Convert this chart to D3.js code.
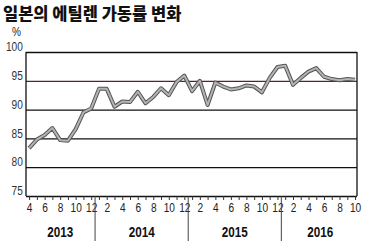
<!DOCTYPE html>
<html>
<head>
<meta charset="utf-8">
<script src="https://cdn.jsdelivr.net/npm/d3@7"></script>
<style>
  body { margin: 0; background: #fff; }
  svg { display: block; }
  .num { font-family: "Liberation Sans", Arial, sans-serif; }
</style>
</head>
<body>
<script>
// data: monthly ethylene plant operating rate in Japan (%)
const years = ['2013', '2014', '2015', '2016'];
const firstMonth = 4;  // series starts April 2013
const rates = [
  83.3, 84.8, 85.6, 86.8, 84.7, 84.6, 86.6, 89.5, 90.2,
  93.6, 93.6, 90.5, 91.4, 91.3, 93.1, 91.1, 92.2, 93.7, 92.5, 94.8, 95.9,
  93.2, 95.0, 90.8, 94.7, 94.0, 93.5, 93.7, 94.2, 94.0, 93.0, 95.5, 97.4,
  97.6, 94.3, 95.5, 96.6, 97.2, 95.7, 95.3, 95.1, 95.3, 95.2
];
const yTicks = [75, 80, 85, 90, 95, 100];

const width = 373;
const height = 251;
const squeeze = 'scale(0.78,1)';  // narrow look of the printed numbers

const svg = d3.select('body')
  .append('svg')
  .attr('width', width)
  .attr('height', height);

// month index 0 = 2013/4
const months = rates.map((v, i) => (firstMonth - 1 + i) % 12 + 1);

const x = d3.scaleLinear()
  .domain([-0.4, rates.length - 0.75])
  .range([26, 357]);

const y = d3.scaleLinear()
  .domain([75, 100])
  .range([196, 52]);

// title
svg.append('text')
  .text('일본의 에틸렌 가동률 변화')
  .attr('x', 3)
  .attr('y', 20)
  .attr('font-family', '"Noto Sans CJK KR", sans-serif')
  .attr('font-weight', 900)
  .attr('font-size', '16.5px')
  .attr('fill', '#111');

svg.append('text')
  .text('%')
  .attr('class', 'num')
  .attr('transform', 'translate(12,36) ' + squeeze)
  .attr('font-size', '13px')
  .attr('fill', '#222');

// horizontal grid + y labels
const yAxis = svg.append('g')
  .attr('transform', 'translate(26,0)')
  .call(d3.axisLeft(y).tickValues(yTicks).tickSize(-(357 - 26)).tickPadding(4));

yAxis.select('.domain').remove();
yAxis.selectAll('.tick line')
  .attr('stroke', d => d === 95 ? '#5a2424' : '#111')
  .attr('stroke-width', d => d === 75 ? 1.5 : 1.3);
yAxis.selectAll('.tick text')
  .attr('class', 'num')
  .attr('font-size', '13px')
  .attr('fill', '#333')
  .attr('transform', squeeze)
  .attr('dy', '-0.1em');

// frame sides
svg.append('line')
  .attr('x1', 26).attr('x2', 26)
  .attr('y1', y(100)).attr('y2', y(75))
  .attr('stroke', '#111').attr('stroke-width', 1.3);
svg.append('line')
  .attr('x1', 357).attr('x2', 357)
  .attr('y1', y(100)).attr('y2', y(75))
  .attr('stroke', '#111').attr('stroke-width', 1.3);

// month ticks and labels
const xAxis = svg.append('g')
  .attr('transform', `translate(0,${y(75)})`)
  .call(d3.axisBottom(x)
    .tickValues(d3.range(rates.length))
    .tickSize(4)
    .tickPadding(3)
    .tickFormat(i => months[i] % 2 === 0 ? months[i] : ''));

xAxis.select('.domain').remove();
xAxis.selectAll('.tick line').attr('stroke', '#333');
xAxis.selectAll('.tick text')
  .attr('class', 'num')
  .attr('font-size', '13px')
  .attr('fill', '#222')
  .attr('transform', squeeze);

// year dividers and labels
const yearStarts = months.map((m, i) => m === 1 ? i : -1).filter(i => i >= 0);

svg.selectAll('.divider')
  .data(yearStarts)
  .enter()
  .append('line')
  .attr('class', 'divider')
  .attr('x1', i => x(i - 0.5))
  .attr('x2', i => x(i - 0.5))
  .attr('y1', y(75))
  .attr('y2', 241)
  .attr('stroke', '#444')
  .attr('stroke-width', 1);

const bounds = [0, ...yearStarts, rates.length];
svg.selectAll('.year')
  .data(years)
  .enter()
  .append('text')
  .attr('class', 'num')
  .text(d => d)
  .attr('transform', (d, k) =>
    `translate(${x((bounds[k] + bounds[k + 1] - 1) / 2)},237) ${squeeze}`)
  .attr('text-anchor', 'middle')
  .attr('font-size', '15px')
  .attr('font-weight', 'bold')
  .attr('fill', '#111');

// data line: dark outline with gray core
const line = d3.line()
  .x((d, i) => x(i))
  .y(d => y(d));

svg.append('path')
  .datum(rates)
  .attr('d', line)
  .attr('fill', 'none')
  .attr('stroke', '#555')
  .attr('stroke-width', 4)
  .attr('stroke-linejoin', 'round');

svg.append('path')
  .datum(rates)
  .attr('d', line)
  .attr('fill', 'none')
  .attr('stroke', '#b4b4b4')
  .attr('stroke-width', 2)
  .attr('stroke-linejoin', 'round');
</script>
</body>
</html>
